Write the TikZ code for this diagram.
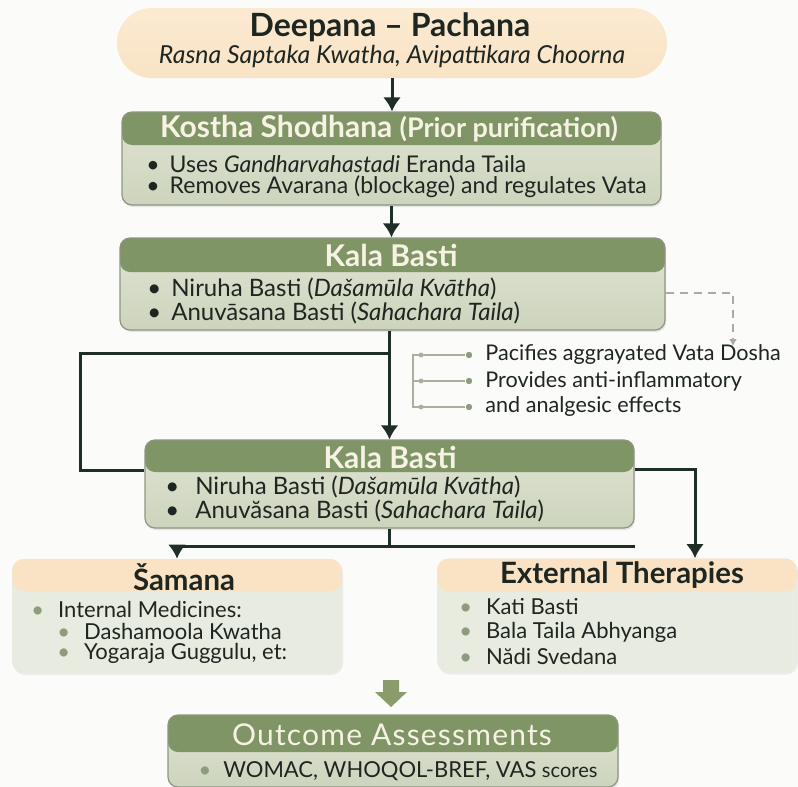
\documentclass[tikz,border=0pt]{standalone}
\usepackage{fontspec}
\setmainfont{Lato}
\usepackage{xcolor}
\usepackage{tikz}
\usetikzlibrary{arrows.meta,shadows}

\definecolor{hdgreen}{HTML}{7F9566}
\definecolor{sagetop}{HTML}{DFE4D2}
\definecolor{sagebot}{HTML}{CDD4BD}
\definecolor{boxedge}{HTML}{8E9682}
\definecolor{peach}{HTML}{F9E3C4}
\definecolor{peachhi}{HTML}{FBEAD2}
\definecolor{lightbody}{HTML}{E8EBDF}
\definecolor{inkline}{HTML}{1F2F28}
\definecolor{inktext}{HTML}{1E2621}
\definecolor{cream}{HTML}{F6F2E4}
\definecolor{dotgreen}{HTML}{8E9C7E}
\definecolor{bracketgray}{HTML}{A9B09C}
\definecolor{dashgray}{HTML}{ABABA3}
\definecolor{blockgreen}{HTML}{8A9C6C}
\definecolor{bgwhite}{HTML}{FBFBF9}

\begin{document}
\begin{tikzpicture}[x=0.5pt, y=-0.5pt,
  >={Latex[length=7pt,width=9pt]},
  greenbox/.style={rectangle, rounded corners=5pt, draw=boxedge, line width=0.6pt,
    top color=sagetop, bottom color=sagebot,
    drop shadow={opacity=0.18, shadow xshift=0.6pt, shadow yshift=-1pt},
    path picture={\fill[hdgreen] (path picture bounding box.north west) rectangle ([yshift=-#1]path picture bounding box.north east);}},
  peachbox/.style={rectangle, rounded corners=6pt, fill=lightbody,
    drop shadow={opacity=0.12, shadow xshift=0.6pt, shadow yshift=-1pt},
    path picture={\fill[peach] (path picture bounding box.north west) rectangle ([yshift=-#1]path picture bounding box.north east);}},
  pill/.style={rectangle, rounded corners=17.5pt, top color=peachhi, bottom color=peach,
    minimum width=275pt, minimum height=35pt},
  hdlabel/.style={inner sep=0pt, text=cream, font=\fontsize{15}{17}\selectfont\bfseries},
  pchlabel/.style={inner sep=0pt, text=inktext, font=\fontsize{14.7}{17}\selectfont\bfseries},
  entry/.style={anchor=west, inner sep=0pt, text=inktext, font=\fontsize{12}{14}\selectfont},
  smallentry/.style={entry, font=\fontsize{11}{13}\selectfont},
  link/.style={draw=inkline, line width=1.5pt},
  sdot/.style={circle, fill=dotgreen, inner sep=0pt, minimum size=3.2pt},
  brk/.style={draw=bracketgray, line width=0.9pt}]

\fill[bgwhite] (0,0) rectangle (798,787);
\useasboundingbox (0,0) rectangle (798,787);

\node[pill] (dp) at (392,43) {};
\node[inner sep=0pt, text=inktext, font=\fontsize{16}{18}\selectfont\bfseries] (dpT) at (390,27) {Deepana -- Pachana};
\node[inner sep=0pt, text=inktext, font=\fontsize{12.4}{14}\selectfont\itshape] (dpS) at (392,56) {Rasna Saptaka Kwatha, Avipattikara Choorna};

\node[greenbox=16.5pt, minimum width=269.5pt, minimum height=46.5pt] (ks) at (391.5,158.5) {};
\node[hdlabel] (ksT) at (389,129) {Kostha Shodhana {\fontsize{13.5}{15}\selectfont(Prior purification)}};
\node[entry, font=\fontsize{11.5}{13}\selectfont] (ks1) at (146,164) {\textbullet\hspace{5pt}Uses \textit{Gandharvahastadi} Eranda Taila};
\node[entry, font=\fontsize{11.5}{13}\selectfont] (ks2) at (146,187) {\textbullet\hspace{5pt}Removes Avarana (blockage) and regulates Vata};

\node[greenbox=17pt, minimum width=272.5pt, minimum height=46pt] (kb1) at (392.5,284) {};
\node[hdlabel] (kb1T) at (391,255) {Kala Basti};
\node[entry] (kb1a) at (147,289) {\textbullet\hspace{5pt}Niruha Basti (\textit{Dašamūla Kvātha})};
\node[entry] (kb1b) at (147,313) {\textbullet\hspace{5pt}Anuvāsana Basti (\textit{Sahachara Taila})};

\node[entry, font=\fontsize{10.8}{12}\selectfont] (pv1) at (485,355) {Pacifies aggrayated Vata Dosha};
\node[entry, font=\fontsize{10.8}{12}\selectfont] (pv2) at (485,381) {Provides anti-inflammatory};
\node[entry, font=\fontsize{10.8}{12}\selectfont] (pv3) at (485,407) {and analgesic effects};

\node[greenbox=16pt, minimum width=244.5pt, minimum height=44pt] (kb2) at (389.5,484) {};
\node[hdlabel] (kb2T) at (390,457) {Kala Basti};
\node[entry] (kb2a) at (165,487) {\textbullet\hspace{8pt}Niruha Basti (\textit{Dašamūla Kvātha})};
\node[entry] (kb2b) at (165,511) {\textbullet\hspace{8pt}Anuvăsana Basti (\textit{Sahachara Taila})};

\node[peachbox=16pt, minimum width=165pt, minimum height=57pt] (sm) at (177,616) {};
\node[pchlabel] (smT) at (184,577) {Šamana};
\node[smallentry] (sm1) at (31,609) {\textcolor{dotgreen}{\textbullet}\hspace{7pt}Internal Medicines:};
\node[smallentry] (sm2) at (57,631) {\textcolor{dotgreen}{\textbullet}\hspace{7pt}Dashamoola Kwatha};
\node[smallentry] (sm3) at (57,653) {\textcolor{dotgreen}{\textbullet}\hspace{7pt}Yogaraja Guggulu, et:};

\node[peachbox=16.5pt, minimum width=180pt, minimum height=57pt] (et) at (617,615.5) {};
\node[pchlabel] (etT) at (622,575) {External Therapies};
\node[smallentry] (et1) at (459,607) {\textcolor{dotgreen}{\textbullet}\hspace{7pt}Kati Basti};
\node[smallentry] (et2) at (459,632) {\textcolor{dotgreen}{\textbullet}\hspace{7pt}Bala Taila Abhyanga};
\node[smallentry] (et3) at (459,656) {\textcolor{dotgreen}{\textbullet}\hspace{7pt}Nădi Svedana};

\fill[blockgreen] (383,680) -- (399,680) -- (399,692) -- (407,692) -- (391,707) -- (375,692) -- (383,692) -- cycle;

\node[greenbox=18.5pt, minimum width=225pt, minimum height=36pt] (oa) at (393,751) {};
\node[hdlabel, font=\fontsize{15}{18}\selectfont\addfontfeature{LetterSpace=4}] (oaT) at (392,735) {Outcome Assessments};
\node[smallentry, anchor=center] (oa1) at (398,771) {\textcolor{dotgreen}{\textbullet}\hspace{6pt}WOMAC, WHOQOL-BREF, VAS {\fontsize{10}{11}\selectfont scores}};

\draw[link, ->] (dp.south) -- (dp.south |- ks.north);
\draw[link, ->] (ks.south) -- (ks.south |- kb1.north);
\draw[link, ->] (kb2.north |- kb1.south) -- (kb2.north);

\coordinate (loopTop) at (kb2.north |- 0,353);
\coordinate (loopLeft) at (80,470);
\draw[link] (loopTop) -| (loopLeft) -- (loopLeft -| kb2.west);

\draw[link, ->] (kb2.east |- 0,469) -| (et.north -| 695,0);

\coordinate (split) at (kb2.south |- 0,546);
\draw[link] (kb2.south) -- (split);
\draw[link] (split) -- (split -| kb2.east);
\draw[link, ->] (split) -| (sm.north);

\draw[dashgray, line width=0.8pt, dash pattern=on 4pt off 3pt, -{Latex[length=3.5pt,width=4pt]}] (kb1.east |- 0,293) -| (733,346);

\foreach \n in {1,2,3} {
  \node[sdot] (d\n) at ([xshift=-8pt]pv\n.west) {};
  \draw[brk] (413,0 |- d\n) -- (d\n);
  \fill[bracketgray] (421,0 |- d\n) circle (1.2pt);
}
\draw[brk] (419,0 |- d1) -| (413,0 |- d3) -- (419,0 |- d3);

\end{tikzpicture}
\end{document}
